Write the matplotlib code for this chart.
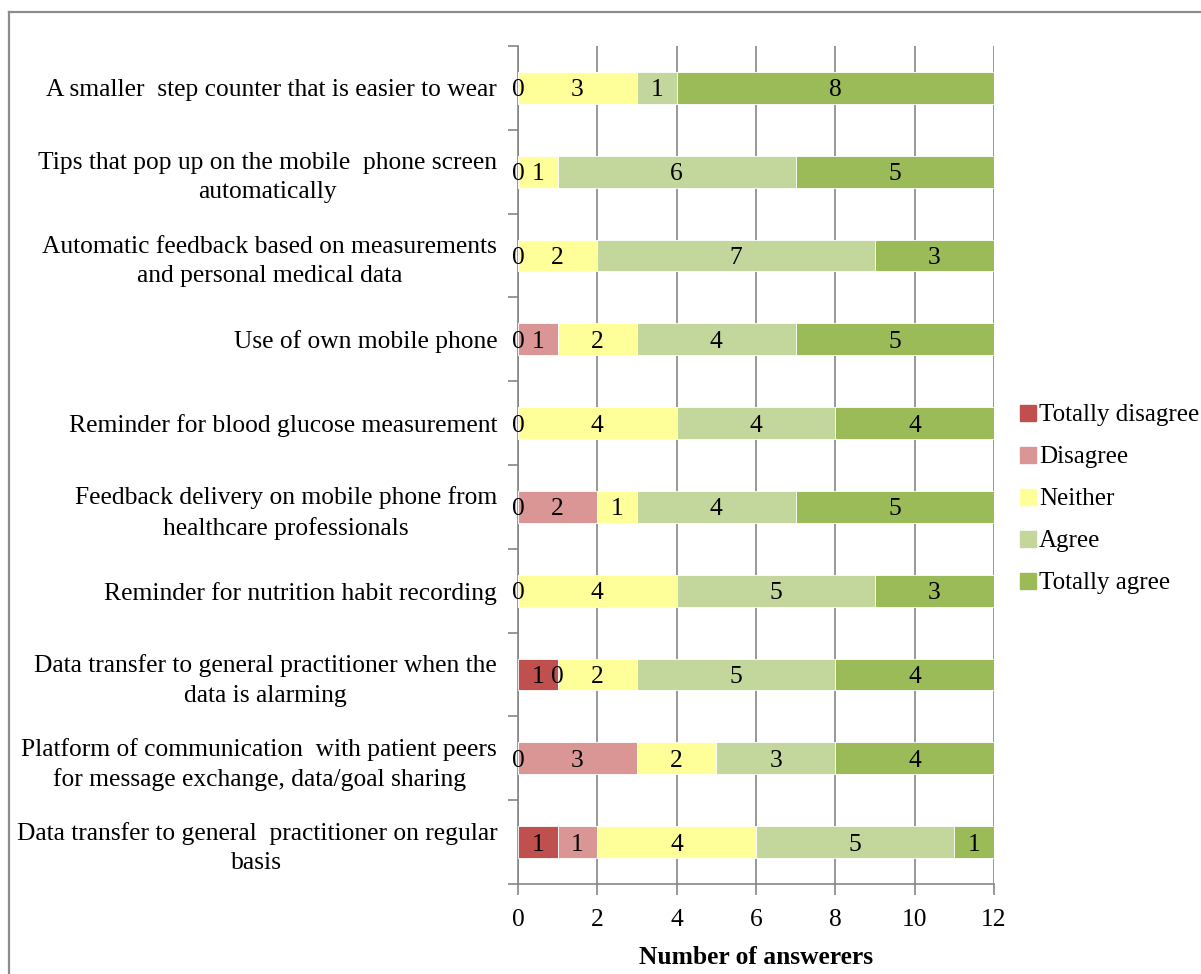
import numpy as np
import matplotlib
matplotlib.use("Agg")
import matplotlib.pyplot as plt
from matplotlib.lines import Line2D

plt.rcParams['font.family'] = ['Liberation Serif', 'DejaVu Serif']

categories = [
    "A smaller  step counter that is easier to wear",
    "Tips that pop up on the mobile  phone screen\nautomatically",
    "Automatic feedback based on measurements\nand personal medical data",
    "Use of own mobile phone",
    "Reminder for blood glucose measurement",
    "Feedback delivery on mobile phone from\nhealthcare professionals",
    "Reminder for nutrition habit recording",
    "Data transfer to general practitioner when the\ndata is alarming",
    "Platform of communication  with patient peers\nfor message exchange, data/goal sharing",
    "Data transfer to general  practitioner on regular\nbasis",
]

nan = np.nan
totally_disagree = [0, 0, 0, 0, 0, 0, 0, 1, 0, 1]
disagree         = [nan, nan, nan, 1, nan, 2, nan, 0, 3, 1]
neither          = [3, 1, 2, 2, 4, 1, 4, 2, 2, 4]
agree            = [1, 6, 7, 4, 4, 4, 5, 5, 3, 5]
totally_agree    = [8, 5, 3, 5, 4, 5, 3, 4, 4, 1]

series_names = ["Totally disagree", "Disagree", "Neither", "Agree", "Totally agree"]
series_values = [totally_disagree, disagree, neither, agree, totally_agree]
colors = ["#C0504D", "#D99694", "#FFFF99", "#C3D69B", "#9BBB59"]

FS = 18.4
W, H = 1201, 974
fig = plt.figure(figsize=(W / 100, H / 100), dpi=100)
ax = fig.add_axes([518 / W, (H - 884) / H, (994 - 518) / W, (884 - 46) / H])

y = np.arange(len(categories))
left = np.zeros(len(categories))
handles = []
for name, vals, col in zip(series_names, series_values, colors):
    v = np.array(vals, dtype=float)
    mask = ~np.isnan(v)
    ax.barh(y[mask], v[mask], left=left[mask], height=0.38, color=col,
            edgecolor="white", linewidth=0.6, zorder=3)
    for yi, li, vi in zip(y[mask], left[mask], v[mask]):
        ax.text(li + vi / 2, yi, f"{int(vi)}", ha="center", va="center_baseline",
                fontsize=FS, zorder=4)
    left = left + np.nan_to_num(v)
    handles.append(Line2D([], [], marker="s", linestyle="none",
                          markersize=11, markerfacecolor=col,
                          markeredgecolor=col))

ax.set_xlim(0, 12)
ax.set_ylim(len(categories) - 0.5, -0.5)
ax.set_xticks(np.arange(0, 13, 2))
ax.tick_params(axis="x", direction="out", length=8, width=1.2,
               color="#868686", labelsize=FS, pad=10)
ax.set_yticks(np.arange(-0.5, len(categories), 1.0))
ax.set_yticklabels([])
ax.set_yticks(y, minor=True)
ax.set_yticklabels(categories, minor=True, fontsize=FS,
                   multialignment="center", linespacing=1.42)
ax.tick_params(axis="y", which="major", direction="out", length=7, width=1.2,
               color="#868686")
ax.tick_params(axis="y", which="minor", length=0, pad=15)

ax.grid(axis="x", color="#868686", linewidth=1.2, zorder=0)
ax.set_axisbelow(True)
for side in ("top", "right"):
    ax.spines[side].set_visible(False)
for side in ("left", "bottom"):
    ax.spines[side].set_color("#868686")
    ax.spines[side].set_linewidth(1.2)

ax.set_xlabel("Number of answerers", fontsize=FS, fontweight="bold", labelpad=11)

fig.legend(handles, series_names, loc="center left",
           bbox_to_anchor=(1019 / W, (H - 499) / H), frameon=False,
           fontsize=18, handlelength=0.7, handletextpad=0.1,
           labelspacing=0.78, borderpad=0, borderaxespad=0)

# outer chart frame
fig.add_artist(Line2D([8.5 / W, 8.5 / W], [0, (H - 12) / H],
                      transform=fig.transFigure, color="#8C8C8C", linewidth=1.6))
fig.add_artist(Line2D([8.5 / W, 1], [(H - 12) / H, (H - 12) / H],
                      transform=fig.transFigure, color="#8C8C8C", linewidth=1.6))

fig.savefig("out.png", dpi=100)
